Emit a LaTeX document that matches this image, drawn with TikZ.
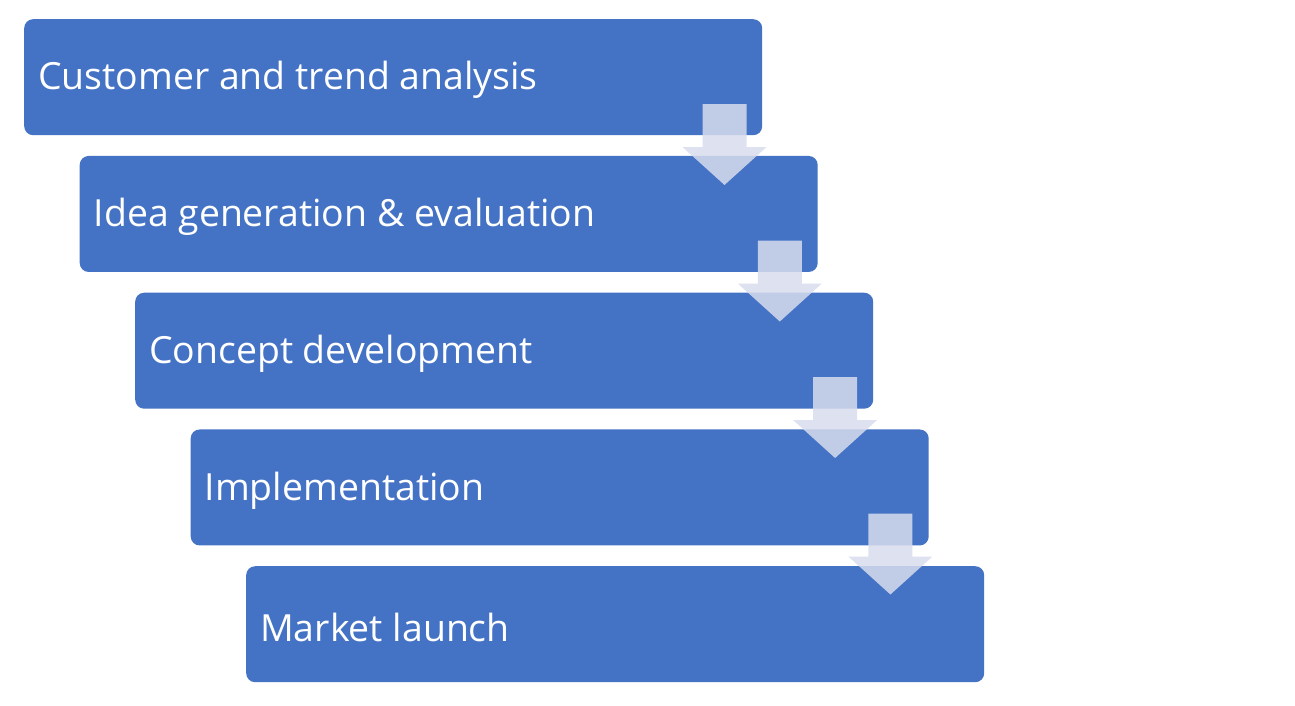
\documentclass[tikz,border=0pt]{standalone}
\usepackage{fontspec}
\setmainfont{Open Sans}
\definecolor{boxblue}{RGB}{68,114,196}
\definecolor{arrowfill}{RGB}{216,220,238}
\begin{document}
\begin{tikzpicture}[x=1pt,y=-1pt,
  stepbox/.style={fill=boxblue, rounded corners=9pt, minimum width=738pt, minimum height=116pt,
    anchor=north west, inner sep=0pt},
  steptext/.style={text=white, font=\fontsize{37.4}{44}\selectfont, anchor=west, inner sep=0pt},
  downarrow/.style={fill=arrowfill, fill opacity=0.85, draw=none}]
\useasboundingbox (0,0) rectangle (1295,705);
\fill[white] (0,0) rectangle (1295,705);
\foreach \i/\t in {1/Customer and trend analysis,2/Idea generation \& evaluation,3/Concept development,4/Implementation,5/Market launch}{
  \pgfmathsetmacro{\bx}{24+55.5*(\i-1)}
  \pgfmathsetmacro{\by}{19+136.75*(\i-1)}
  \node[stepbox] (b\i) at (\bx,\by) {};
  \node[steptext] (t\i) at ([xshift=14pt,yshift=-3pt]b\i.west) {\t};
}
\foreach \i in {1,2,3,4}{
  \pgfmathsetmacro{\ax}{724.5+55.3*(\i-1)}
  \pgfmathsetmacro{\ay}{104+136.5*(\i-1)}
  \fill[downarrow] (\ax-22,\ay) -- (\ax+22,\ay) -- (\ax+22,\ay+43) -- (\ax+42,\ay+43)
    -- (\ax,\ay+81) -- (\ax-42,\ay+43) -- (\ax-22,\ay+43) -- cycle;
}
\end{tikzpicture}
\end{document}
